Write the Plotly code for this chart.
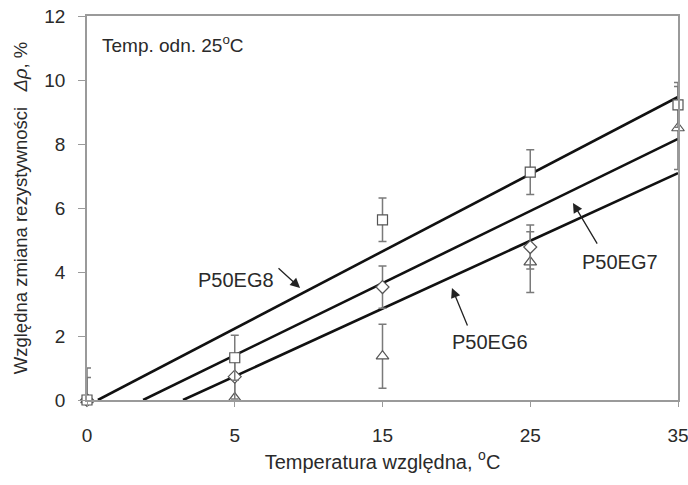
import numpy as np
import plotly.graph_objects as go

# ---- data ----
categories = ["0", "5", "15", "25", "35"]           # relative temperature, category axis
cat_idx = [0, 1, 2, 3, 4]

eg8_vals = [0.0, 1.32, 5.63, 7.12, 9.22]             # squares
eg8_err = [1.0, 0.70, 0.68, 0.70, 0.70]
eg7_vals = [0.0, 0.73, 3.53, 4.78, None]             # diamonds
eg7_err = [0.70, 0.70, 0.66, 0.69, 0.0]
eg6_vals = [0.0, 0.06, 1.37, 4.31, 8.50]             # triangles
eg6_err = [0.0, 0.70, 1.0, 0.95, 1.3]

# fitted lines: start where they cross 0 (category index) and value at last category
fit_names = ["P50EG8", "P50EG7", "P50EG6"]
fit_x = [[0.074, 4.0], [0.38, 4.0], [0.65, 4.0]]
fit_y = [[0.0, 9.47], [0.0, 8.16], [0.0, 7.09]]

# label positions (data coords): text, arrow tail, arrow head
lbl_text_xy = [(1.008, 3.75), (3.607, 4.31), (2.728, 1.81)]
lbl_tail_xy = [(1.286, 4.16), (3.459, 4.84), (2.579, 2.28)]
lbl_head_xy = [(1.442, 3.50), (3.289, 6.16), (2.470, 3.50)]

FONT = "Liberation Sans, Arial, sans-serif"
TXT = "#2a2a2a"
AX = "#9a9a9a"

fig = go.Figure()

for fx, fy in zip(fit_x, fit_y):
    fig.add_trace(go.Scatter(x=fx, y=fy, mode="lines",
                             line=dict(color="#111111", width=2.6),
                             showlegend=False, hoverinfo="skip"))

def add_series(vals, err, symbol, size):
    v = np.array([np.nan if a is None else a for a in vals], dtype=float)
    e = np.array(err, dtype=float)
    fig.add_trace(go.Scatter(
        x=cat_idx, y=v, mode="markers", cliponaxis=False,
        marker=dict(symbol=symbol, size=size, color="white",
                    line=dict(color="#555555", width=1.2)),
        error_y=dict(type="data", symmetric=False, array=e,
                     arrayminus=np.minimum(e, np.nan_to_num(v)), color="#7a7a7a",
                     thickness=1.5, width=4),
        showlegend=False))

add_series(eg6_vals, eg6_err, "triangle-up", 11)
add_series(eg7_vals, eg7_err, "diamond", 10)
add_series(eg8_vals, eg8_err, "square", 10)

annotations = []
for name, t, tl, hd in zip(fit_names, lbl_text_xy, lbl_tail_xy, lbl_head_xy):
    annotations.append(dict(x=t[0], y=t[1], xref="x", yref="y", text=name,
                            showarrow=False, font=dict(family=FONT, size=20, color=TXT)))
    annotations.append(dict(x=hd[0], y=hd[1], xref="x", yref="y",
                            ax=tl[0], ay=tl[1], axref="x", ayref="y",
                            text="", showarrow=True, arrowhead=2, arrowsize=1.5,
                            arrowwidth=1.3, arrowcolor="#222222"))
annotations.append(dict(x=0.022, y=0.927, xref="paper", yref="paper",
                        xanchor="left", yanchor="middle",
                        text="Temp. odn. 25<sup>o</sup>C", showarrow=False,
                        font=dict(family=FONT, size=19, color=TXT)))

fig.update_layout(
    width=688, height=485,
    margin=dict(l=87, r=10, t=16, b=85, autoexpand=False),
    paper_bgcolor="white", plot_bgcolor="white",
    font=dict(family=FONT, size=19, color=TXT),
    annotations=annotations,
    xaxis=dict(range=[0, 4], tickmode="array", tickvals=cat_idx, ticktext=categories,
               showgrid=False, zeroline=False, showline=True, linecolor=AX, linewidth=1.5,
               mirror=True, ticks="outside", ticklen=5, tickcolor=AX,
               ticklabelstandoff=12, tickfont=dict(size=19), ticklabeloverflow="allow",
               title=dict(text="Temperatura względna, <sup>o</sup>C", standoff=10,
                          font=dict(family=FONT, size=20, color=TXT))),
    yaxis=dict(range=[0, 12], dtick=2, showgrid=False, zeroline=False,
               showline=True, linecolor=AX, linewidth=1.5, mirror=True,
               ticks="outside", ticklen=7, tickcolor=AX, ticklabelstandoff=9,
               tickfont=dict(size=19),
               title=dict(text="Względna zmiana rezystywności\u00a0\u00a0\u00a0<i>Δρ</i>, %",
                          standoff=12, font=dict(family=FONT, size=18.5, color=TXT))),
)

fig.write_html("out.html")
